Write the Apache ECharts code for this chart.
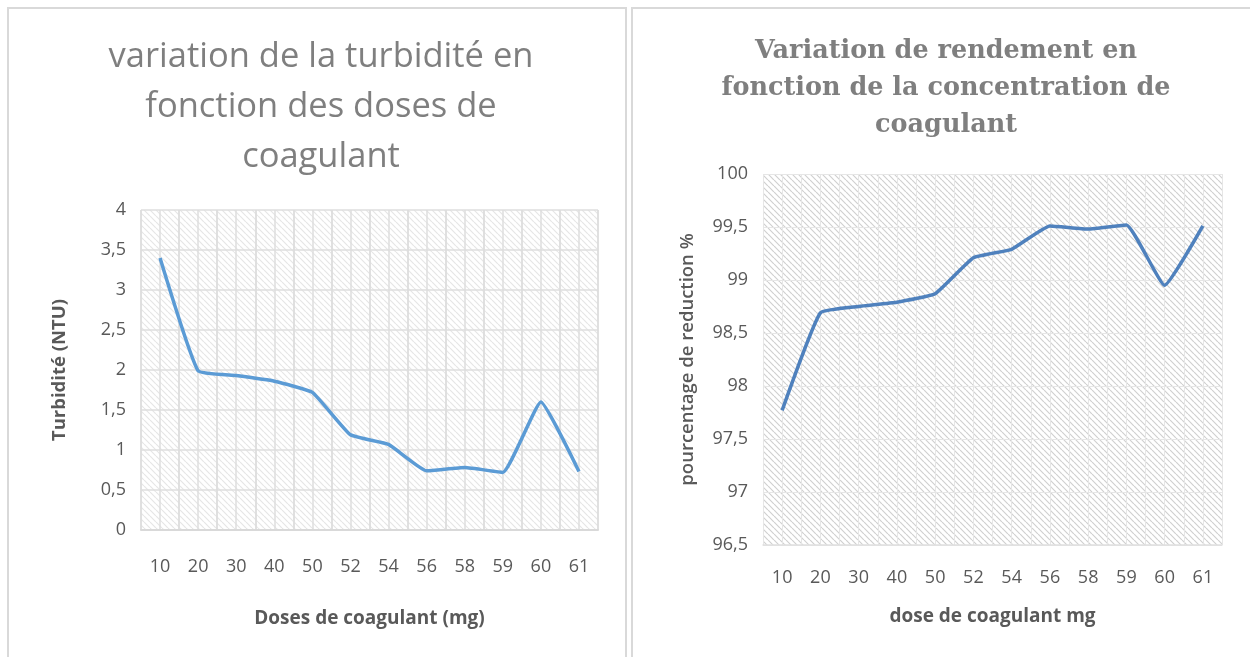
<!DOCTYPE html>
<html><head><meta charset="utf-8">
<script src="https://cdn.jsdelivr.net/npm/echarts@6/dist/echarts.min.js"></script>
<style>html,body{margin:0;padding:0;background:#fff}#c{width:1250px;height:657px}</style>
</head><body><div id="c"></div>
<script>
const doses = ['10','20','30','40','50','52','54','56','58','59','60','61'];
const turbidity = [3.40, 1.99, 1.93, 1.86, 1.72, 1.19, 1.07, 0.74, 0.78, 0.72, 1.60, 0.73];
const yield_pct = [97.77, 98.69, 98.75, 98.79, 98.87, 99.21, 99.29, 99.51, 99.48, 99.52, 98.95, 99.51];
const halfCats = doses.concat(doses).map((d,i)=>String(i));

function hatch(bg, fg, size) {
  const c = document.createElement('canvas');
  c.width = size; c.height = size;
  const g = c.getContext('2d');
  g.fillStyle = bg; g.fillRect(0,0,size,size);
  g.strokeStyle = fg; g.lineWidth = 1.2;
  g.beginPath();
  for (let k = -size; k <= size*2; k += size) {
    g.moveTo(k, 0); g.lineTo(k + size, size);
  }
  g.stroke();
  return {image: c, repeat: 'repeat'};
}

const lab = {color:'#595959', fontSize:18, fontFamily:'Open Sans'};
const chart = echarts.init(document.getElementById('c'), null, {renderer:'canvas'});
chart.setOption({
  animation:false,
  backgroundColor:'#fff',
  title:[
    {text:'variation de la turbidité en\nfonction des doses de\ncoagulant', left:316, top:27, textAlign:'center',
     textStyle:{fontFamily:'Open Sans', fontWeight:'normal', fontSize:34.5, color:'#7f7f7f', lineHeight:50}},
    {text:'Variation de rendement en\nfonction de la concentration de\ncoagulant', left:941, top:28, textAlign:'center',
     textStyle:{fontFamily:'DejaVu Serif', fontWeight:'bold', fontSize:25.5, color:'#7f7f7f', lineHeight:37}}
  ],
  graphic:[
    {type:'rect', shape:{x:8, y:8, width:618, height:680}, style:{fill:'none', stroke:'#d9d9d9', lineWidth:2}},
    {type:'rect', shape:{x:632, y:8, width:640, height:680}, style:{fill:'none', stroke:'#d9d9d9', lineWidth:2}}
  ],
  grid:[
    {left:141, top:210, width:457, height:320, show:true, backgroundColor:hatch('#ffffff','#e6e6e6',6), borderWidth:0},
    {left:763, top:174, width:459, height:371, show:true, backgroundColor:hatch('#ffffff','#d0d0d0',6), borderWidth:0}
  ],
  xAxis:[
    {type:'category', gridIndex:0, data:doses, boundaryGap:true,
     axisLine:{lineStyle:{color:'#d9d9d9', width:2}}, axisTick:{show:false},
     axisLabel:Object.assign({margin:28}, lab),
     splitLine:{show:true, interval:0, lineStyle:{color:'#dedede', width:1.5}},
     name:'Doses de coagulant (mg)', nameLocation:'middle', nameGap:79,
     nameTextStyle:{fontFamily:'Open Sans', fontWeight:'bold', fontSize:19, color:'#595959'}},
    {type:'category', gridIndex:0, data:halfCats, boundaryGap:true, position:'bottom',
     axisLine:{show:false}, axisTick:{show:false}, axisLabel:{show:false},
     splitLine:{show:true, interval:0, lineStyle:{color:'#dedede', width:1.5}}},
    {type:'category', gridIndex:1, data:doses, boundaryGap:true,
     axisLine:{lineStyle:{color:'#e0e0e0', width:1.5}}, axisTick:{show:false},
     axisLabel:Object.assign({margin:24}, lab),
     splitLine:{show:true, interval:0, lineStyle:{color:'#e6e6e6', width:1}},
     name:'dose de coagulant mg', nameLocation:'middle', nameGap:62,
     nameTextStyle:{fontFamily:'Open Sans', fontWeight:'bold', fontSize:19, color:'#595959'}},
    {type:'category', gridIndex:1, data:halfCats, boundaryGap:true, position:'bottom',
     axisLine:{show:false}, axisTick:{show:false}, axisLabel:{show:false},
     splitLine:{show:true, interval:0, lineStyle:{color:'#e6e6e6', width:1}}}
  ],
  yAxis:[
    {type:'value', gridIndex:0, min:0, max:4, interval:0.5,
     axisLine:{show:false}, axisTick:{show:false},
     axisLabel:Object.assign({margin:15, formatter:v=>String(v).replace('.',',')}, lab),
     splitLine:{lineStyle:{color:'#dedede', width:1.5}},
     name:'Turbidité (NTU)', nameLocation:'middle', nameGap:72,
     nameTextStyle:{fontFamily:'Open Sans', fontWeight:'bold', fontSize:18.5, color:'#595959'}},
    {type:'value', gridIndex:1, min:96.5, max:100, interval:0.5,
     axisLine:{show:false}, axisTick:{show:false},
     axisLabel:Object.assign({margin:15, formatter:v=>String(v).replace('.',',')}, lab),
     splitLine:{lineStyle:{color:'#e6e6e6', width:1}},
     name:'pourcentage de reduction %', nameLocation:'middle', nameGap:66,
     nameTextStyle:{fontFamily:'Open Sans', fontWeight:600, fontSize:18.5, color:'#595959'}}
  ],
  series:[
    {type:'line', xAxisIndex:0, yAxisIndex:0, data:turbidity, smooth:0.12, showSymbol:false,
     lineStyle:{color:'#5b9bd5', width:3.5}},
    {type:'line', xAxisIndex:2, yAxisIndex:1, data:yield_pct, smooth:0.12, showSymbol:false,
     lineStyle:{color:'#4f81bd', width:3.5}}
  ]
});
</script></body></html>
